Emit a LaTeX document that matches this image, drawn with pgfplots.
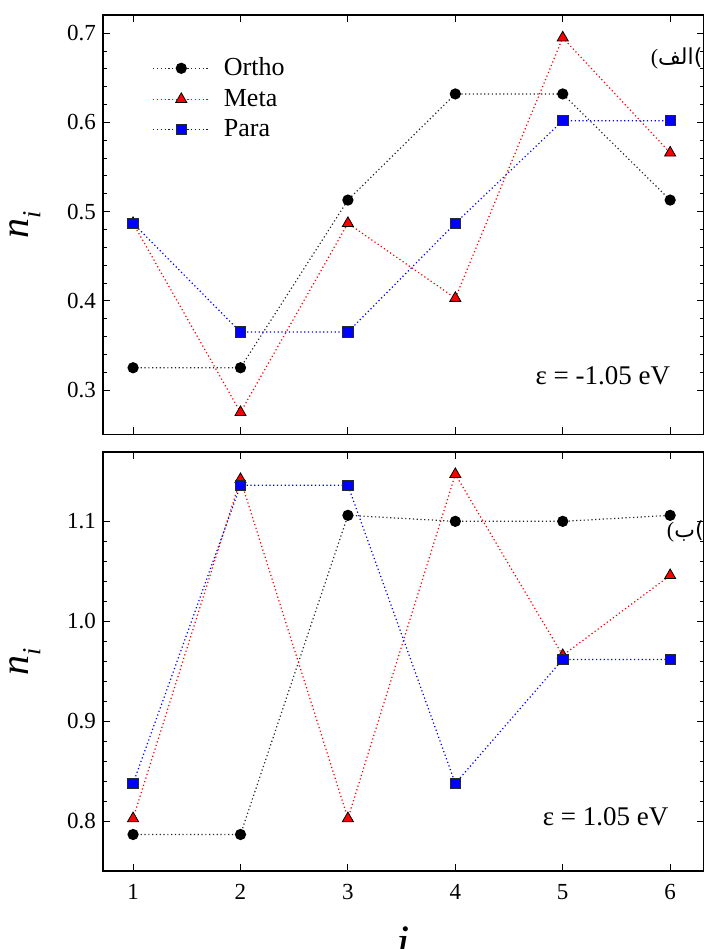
\documentclass[border=0pt]{standalone}
\usepackage{fontspec}
\setmainfont{Liberation Serif}
\newfontfamily\arabicfont[Script=Arabic]{DejaVu Sans}
\TeXXeTstate=1
\usepackage{pgfplots}
\pgfplotsset{compat=1.18}
\definecolor{dgray}{RGB}{40,40,40}
\pgfplotsset{
  common/.style={
    width=300.5pt, height=209.6pt, scale only axis,
    xmin=0.72, xmax=6.315,
    xtick={1,2,3,4,5,6},
    minor y tick num=4,
    tick align=inside,
    major tick length=3.5pt, minor tick length=2pt,
    every tick/.style={black, line width=0.5pt},
    axis line style={line width=0.7pt},
    tick label style={font=\fontsize{11.5}{13}\selectfont},
    /pgf/number format/assume math mode=true,
    yticklabel style={/pgf/number format/.cd, fixed, fixed zerofill, precision=1},
    ylabel={\fontsize{20}{22}\selectfont\textit{n}\raisebox{-0.3em}{\fontsize{13}{15}\selectfont\textit{i}}},
    ylabel style={at={(axis description cs:-0.13,0.5)}, anchor=center, inner sep=0pt},
    legend image code/.code={\draw[##1, mark repeat=2, mark phase=2] plot coordinates {(0pt,0pt)(14pt,0pt)(28pt,0pt)};},
  },
  ortho/.style={dgray, line width=0.6pt, dash pattern=on 0.6pt off 1.3pt, mark=*, mark size=2.5pt, mark options={solid, fill=black, draw=black}},
  meta/.style={red, line width=0.6pt, dash pattern=on 0.6pt off 1.3pt, mark=triangle*, mark size=3.2pt, mark options={solid, fill=red, draw=black, line width=0.4pt}},
  para/.style={blue, line width=0.6pt, dash pattern=on 0.6pt off 1.3pt, mark=square*, mark size=2.6pt, mark options={solid, fill=blue, draw=dgray, line width=0.4pt}},
}
\begin{document}
\begin{tikzpicture}
\path[use as bounding box] (-51.5pt,7.5pt) rectangle (300.5pt,-467pt);
\begin{axis}[common, name=top, at={(0pt,0pt)}, anchor=north west,
  ymin=0.2505, ymax=0.7205,
  ytick={0.3,0.4,0.5,0.6,0.7},
  xticklabels={},
  legend style={at={(rel axis cs:0.072,0.918)}, anchor=north west, draw=none, fill=none,
    font=\fontsize{13}{15}\selectfont, row sep=1.2pt, /tikz/every odd column/.style={column sep=5pt}},
  legend cell align=left,
]
\addplot[ortho] coordinates {(1,0.325)(2,0.325)(3,0.513)(4,0.632)(5,0.632)(6,0.513)};
\addlegendentry{Ortho}
\addplot[meta] coordinates {(1,0.487)(2,0.275)(3,0.487)(4,0.403)(5,0.695)(6,0.566)};
\addlegendentry{Meta}
\addplot[para] coordinates {(1,0.487)(2,0.365)(3,0.365)(4,0.487)(5,0.602)(6,0.602)};
\addlegendentry{Para}
\node[anchor=east] at (axis cs:6.065,0.316) {\fontsize{13.5}{15}\selectfont ε = -1.05 eV};
\node[anchor=east, inner sep=0pt] at (rel axis cs:0.998,0.897) {\fontsize{11}{13}\selectfont(\arabicfont\beginR الف\endR)};
\end{axis}
\begin{axis}[common, name=bot, at={(0pt,-218.4pt)}, anchor=north west,
  ymin=0.7505, ymax=1.1695,
  ytick={0.8,0.9,1.0,1.1},
  xlabel={\fontsize{24}{28}\selectfont\textit{i}},
  xlabel style={at={(axis description cs:0.5,-0.17)}, anchor=center},
  xticklabel style={yshift=-3pt},
]
\addplot[ortho] coordinates {(1,0.787)(2,0.787)(3,1.106)(4,1.100)(5,1.100)(6,1.106)};
\addplot[meta] coordinates {(1,0.803)(2,1.142)(3,0.803)(4,1.147)(5,0.966)(6,1.046)};
\addplot[para] coordinates {(1,0.838)(2,1.136)(3,1.136)(4,0.838)(5,0.962)(6,0.962)};
\node[anchor=east] at (axis cs:6.05,0.805) {\fontsize{13.5}{15}\selectfont ε = 1.05 eV};
\node[anchor=east, inner sep=0pt] at (rel axis cs:1.0,0.81) {\fontsize{11}{13}\selectfont(\arabicfont\beginR ب\endR)};
\end{axis}
\end{tikzpicture}
\end{document}
